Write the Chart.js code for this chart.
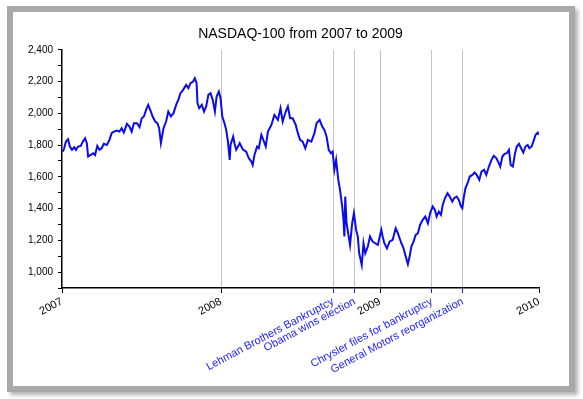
<!DOCTYPE html>
<html>
<head>
<meta charset="utf-8">
<script src="https://cdn.jsdelivr.net/npm/chart.js@4.4.1/dist/chart.umd.min.js"></script>
<style>
    body { margin: 0; background: #ffffff; }
    #frame {
        position: absolute;
        left: 7px;
        top: 6px;
        width: 556px;
        height: 374px;
        border: 6px solid #a9a9a9;
        box-shadow: 3px 3px 4px rgba(0, 0, 0, 0.3);
        background: #ffffff;
    }
    canvas { display: block; }
</style>
</head>
<body>
<div id="frame"><canvas id="ndxChart" width="556" height="374"></canvas></div>
<script>
// NASDAQ-100 closes
const dates = [
    // 2007
    '2007-01-03', '2007-01-06', '2007-01-10', '2007-01-15', '2007-01-19', '2007-01-24', '2007-01-29',
    '2007-02-02', '2007-02-07', '2007-02-13', '2007-02-18', '2007-02-23', '2007-02-27', '2007-03-02',
    '2007-03-08', '2007-03-14', '2007-03-18', '2007-03-23', '2007-03-28', '2007-04-02', '2007-04-07',
    '2007-04-14', '2007-04-20', '2007-04-25', '2007-04-30', '2007-05-07', '2007-05-13', '2007-05-18',
    '2007-05-23', '2007-05-30', '2007-06-05', '2007-06-10', '2007-06-15', '2007-06-22', '2007-06-28',
    '2007-07-03', '2007-07-08', '2007-07-13', '2007-07-18', '2007-07-24', '2007-07-28', '2007-08-03',
    '2007-08-08', '2007-08-12', '2007-08-16', '2007-08-22', '2007-08-28', '2007-09-02', '2007-09-08',
    '2007-09-14', '2007-09-20', '2007-09-25', '2007-09-30', '2007-10-06', '2007-10-13', '2007-10-18',
    '2007-10-23', '2007-10-29', '2007-11-02', '2007-11-06', '2007-11-08', '2007-11-12', '2007-11-18',
    '2007-11-23', '2007-11-28', '2007-12-03', '2007-12-08', '2007-12-13', '2007-12-18', '2007-12-22',
    '2007-12-27', '2007-12-31',
    // 2008
    '2008-01-04', '2008-01-09', '2008-01-13', '2008-01-17', '2008-01-21', '2008-01-23', '2008-01-29',
    '2008-02-01', '2008-02-05', '2008-02-13', '2008-02-20', '2008-02-28', '2008-03-05', '2008-03-11',
    '2008-03-14', '2008-03-18', '2008-03-24', '2008-03-28', '2008-04-03', '2008-04-06', '2008-04-13',
    '2008-04-18', '2008-04-26', '2008-05-03', '2008-05-11', '2008-05-17', '2008-05-22', '2008-05-29',
    '2008-06-03', '2008-06-08', '2008-06-14', '2008-06-21', '2008-06-26', '2008-07-01', '2008-07-07',
    '2008-07-13', '2008-07-19', '2008-07-27', '2008-08-03', '2008-08-08', '2008-08-15', '2008-08-21',
    '2008-08-26', '2008-08-31', '2008-09-05', '2008-09-10', '2008-09-14', '2008-09-18', '2008-09-22',
    '2008-09-27', '2008-10-01', '2008-10-06', '2008-10-09', '2008-10-11', '2008-10-13', '2008-10-16',
    '2008-10-21', '2008-10-24', '2008-10-29', '2008-11-02', '2008-11-07', '2008-11-11', '2008-11-14',
    '2008-11-20', '2008-11-24', '2008-11-28', '2008-12-04', '2008-12-09', '2008-12-15', '2008-12-21',
    '2008-12-27',
    // 2009
    '2009-01-04', '2009-01-07', '2009-01-11', '2009-01-17', '2009-01-23', '2009-01-30', '2009-02-06',
    '2009-02-11', '2009-02-15', '2009-02-19', '2009-02-24', '2009-03-01', '2009-03-06', '2009-03-10',
    '2009-03-14', '2009-03-19', '2009-03-24', '2009-03-29', '2009-04-03', '2009-04-09', '2009-04-15',
    '2009-04-21', '2009-04-26', '2009-05-02', '2009-05-07', '2009-05-11', '2009-05-16', '2009-05-21',
    '2009-05-25', '2009-05-30', '2009-06-05', '2009-06-10', '2009-06-16', '2009-06-20', '2009-06-26',
    '2009-07-01', '2009-07-06', '2009-07-09', '2009-07-12', '2009-07-16', '2009-07-21', '2009-07-26',
    '2009-08-01', '2009-08-06', '2009-08-11', '2009-08-17', '2009-08-22', '2009-08-28', '2009-09-02',
    '2009-09-08', '2009-09-14', '2009-09-19', '2009-09-25', '2009-09-29', '2009-10-04', '2009-10-09',
    '2009-10-14', '2009-10-19', '2009-10-24', '2009-10-28', '2009-11-02', '2009-11-07', '2009-11-11',
    '2009-11-16', '2009-11-21', '2009-11-26', '2009-12-01', '2009-12-06', '2009-12-10', '2009-12-15',
    '2009-12-19', '2009-12-24', '2009-12-29', '2009-12-31'
];
const ndxValues = [
    // 2007
    1759, 1780, 1822, 1837, 1791, 1770, 1787,
    1770, 1791, 1795, 1822, 1843, 1812, 1728,
    1738, 1749, 1738, 1795, 1770, 1780, 1808,
    1801, 1833, 1875, 1885, 1892, 1885, 1906,
    1879, 1934, 1917, 1885, 1938, 1938, 1913,
    1969, 1980, 2022, 2053, 2011, 1980, 1948,
    1938, 1906, 1812, 1906, 1948, 2011, 1980,
    2001, 2053, 2085, 2127, 2148, 2179, 2158,
    2190, 2200, 2221, 2190, 2064, 2032, 2053,
    2011, 2043, 2116, 2127, 2085, 2011, 2106,
    2137, 2095,
    // 2008
    1980, 1938, 1896, 1822, 1707, 1801, 1854,
    1812, 1770, 1812, 1774, 1759, 1717, 1696,
    1675, 1738, 1791, 1780, 1864, 1843, 1791,
    1885, 1927, 1990, 1959, 2032, 1948, 2011,
    2043, 1969, 1969, 1927, 1875, 1833, 1822,
    1780, 1833, 1822, 1875, 1938, 1959, 1917,
    1896, 1854, 1770, 1749, 1759, 1644, 1707,
    1581, 1518, 1413, 1329, 1224, 1476, 1308,
    1224, 1171, 1308, 1371, 1266, 1224, 1119,
    1045, 1182, 1119, 1161, 1224, 1192, 1182,
    1171,
    // 2009
    1266, 1224, 1182, 1150, 1192, 1203, 1276,
    1245, 1213, 1182, 1150, 1098, 1050, 1098,
    1161, 1192, 1234, 1245, 1297, 1329, 1350,
    1308, 1371, 1413, 1392, 1350, 1381, 1360,
    1423, 1465, 1497, 1476, 1444, 1465, 1476,
    1455, 1413, 1402, 1465, 1528, 1560, 1602,
    1612, 1627, 1612, 1581, 1633, 1644, 1612,
    1665, 1707, 1732, 1718, 1696, 1665, 1728,
    1745, 1749, 1770, 1675, 1665, 1749, 1791,
    1808, 1780, 1753, 1791, 1801, 1780, 1791,
    1822, 1864, 1879, 1864
];

// Events marked on the time axis
const eventDates = ['2008-09-15', '2008-11-04', '2009-04-30', '2009-07-10'];
const eventLabels = [
    'Lehman Brothers Bankruptcy',
    'Obama wins election',
    'Chrysler files for bankruptcy',
    'General Motors reorganization'
];

// Axis ticks
const yearTicks = [2007, 2008, 2009, 2010];
const yTicks = [900, 1000, 1100, 1200, 1300, 1400, 1500, 1600, 1700, 1800, 1900, 2000, 2100, 2200, 2300, 2400];

const EVENT_BLUE = '#2323ff';
const LINE_BLUE = '#0b0bee';

// Turn 'YYYY-MM-DD' into a decimal year
function toYear(str) {
    const d = new Date(str + 'T00:00:00Z');
    const y = d.getUTCFullYear();
    const start = Date.UTC(y, 0, 1);
    const end = Date.UTC(y + 1, 0, 1);
    return y + (d.getTime() - start) / (end - start);
}

const eventYears = eventDates.map(toYear);
const xTicks = yearTicks.concat(eventYears).sort((a, b) => a - b);

function isEvent(v) {
    return eventYears.some(e => Math.abs(e - v) < 1e-6);
}

function xLabel(v) {
    const idx = eventYears.findIndex(e => Math.abs(e - v) < 1e-6);
    if (idx >= 0) return eventLabels[idx];
    return String(Math.round(v));
}

const points = dates.map((d, i) => ({ x: toYear(d), y: ndxValues[i] }));

const ctx = document.getElementById('ndxChart');

new Chart(ctx, {
    type: 'line',
    data: {
        datasets: [{
            label: 'NASDAQ-100',
            data: points,
            borderColor: LINE_BLUE,
            borderWidth: 2,
            pointRadius: 0,
            tension: 0,
            fill: false
        }]
    },
    options: {
        responsive: false,
        animation: false,
        layout: {
            padding: { left: 0, right: 30, top: 0, bottom: 0 }
        },
        plugins: {
            legend: { display: false },
            tooltip: { enabled: false },
            title: {
                display: true,
                text: 'NASDAQ-100 from 2007 to 2009',
                color: '#000000',
                fullSize: false,
                font: { family: 'Liberation Sans, Arial, sans-serif', size: 14, weight: 'normal' },
                padding: { top: 14, bottom: 7 }
            }
        },
        scales: {
            x: {
                type: 'linear',
                min: 2007,
                max: 2010,
                afterBuildTicks: scale => {
                    scale.ticks = xTicks.map(v => ({ value: v }));
                },
                afterFit: scale => {
                    scale.height = 98;
                },
                ticks: {
                    autoSkip: false,
                    minRotation: 28,
                    maxRotation: 28,
                    padding: 2,
                    font: { family: 'Liberation Sans, Arial, sans-serif', size: 11 },
                    color: c => isEvent(c.tick.value) ? EVENT_BLUE : '#000000',
                    callback: value => xLabel(value)
                },
                grid: {
                    drawOnChartArea: true,
                    tickLength: 5,
                    color: c => {
                        const v = c.tick ? c.tick.value : 0;
                        return (v > 2007.001 && v < 2009.999) ? '#c4c4c4' : 'rgba(0,0,0,0)';
                    },
                    tickColor: c => isEvent(c.tick.value) ? EVENT_BLUE : '#000000'
                },
                border: { color: '#000000', width: 1.5 }
            },
            y: {
                type: 'linear',
                min: 900,
                max: 2400,
                afterBuildTicks: scale => {
                    scale.ticks = yTicks.map(v => ({ value: v }));
                },
                afterFit: scale => {
                    scale.width = 49;
                },
                ticks: {
                    autoSkip: false,
                    padding: 5,
                    font: { family: 'Liberation Sans, Arial, sans-serif', size: 10 },
                    color: '#000000',
                    callback: value => (value % 200 === 0 && value >= 1000) ? value.toLocaleString('en-US') : ''
                },
                grid: {
                    drawOnChartArea: false,
                    tickLength: 4,
                    tickColor: '#000000'
                },
                border: { color: '#000000', width: 1.5 }
            }
        }
    }
});
</script>
</body>
</html>
